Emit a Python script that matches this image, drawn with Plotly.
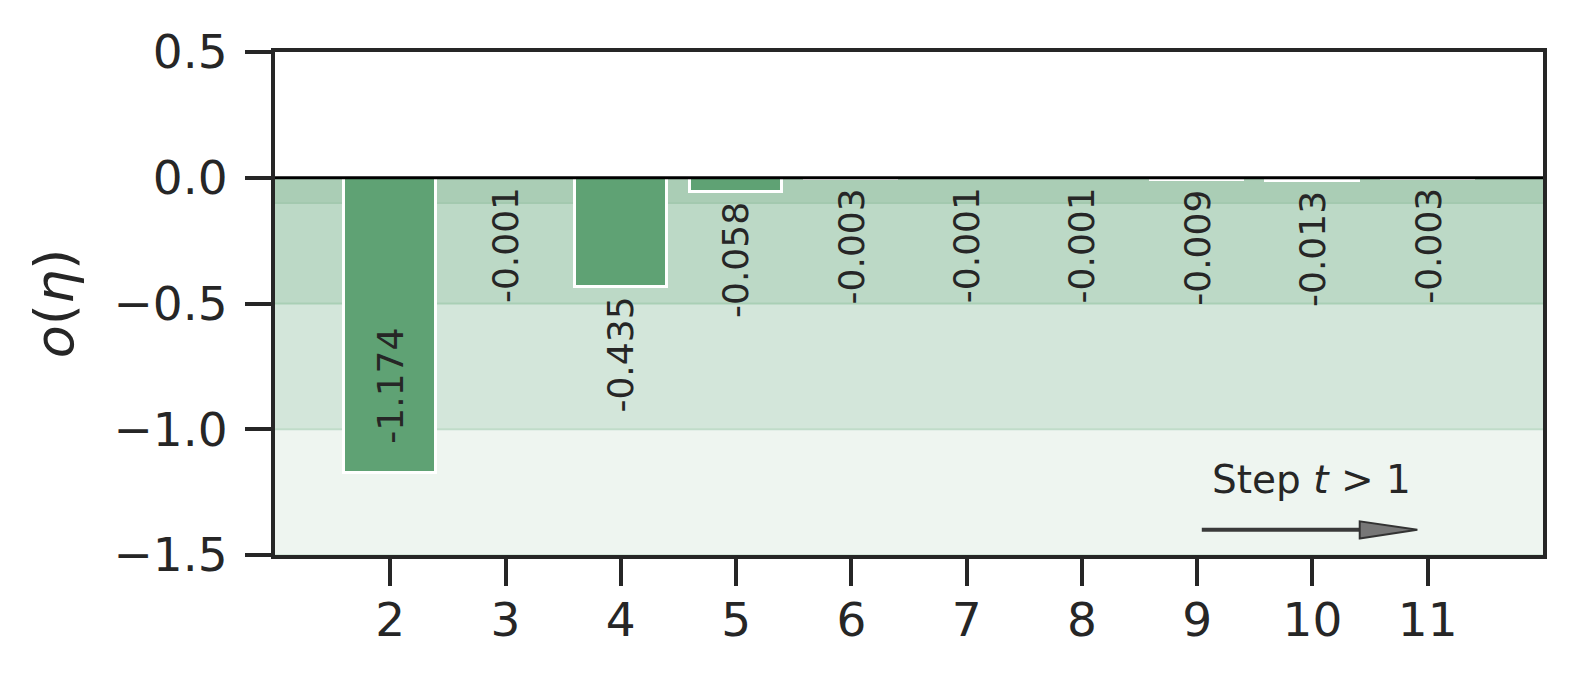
import plotly.graph_objects as go

# step index and o(eta) value per step
steps = [2, 3, 4, 5, 6, 7, 8, 9, 10, 11]
values = [-1.174, -0.001, -0.435, -0.058, -0.003, -0.001, -0.001, -0.009, -0.013, -0.003]
labels = ["-1.174", "-0.001", "-0.435", "-0.058", "-0.003", "-0.001", "-0.001", "-0.009", "-0.013", "-0.003"]

# shaded bands: (lower bound, upper bound, fill, edge)
bands = [(-1.5, -1.0, "#eef5f0", "#d6e8dc"),
         (-1.0, -0.5, "#d3e6da", "#c0dcc9"),
         (-0.5, -0.1, "#bcd9c6", "#a9cfb5"),
         (-0.1, 0.0, "#aacdb5", "#a3c9af")]

# "Step t > 1" arrow, tail and tip in data units
arrow_tail = (9.04, -1.40)
arrow_tip = (10.91, -1.40)

INK = "#262626"
FONT = "DejaVu Sans"

fig = go.Figure()
fig.add_trace(go.Bar(x=steps, y=values, width=0.8,
                     marker=dict(color="#5fa274", line=dict(color="white", width=3)),
                     showlegend=False, hoverinfo="skip"))

for lo, hi, fill, edge in bands:
    fig.add_shape(type="rect", xref="paper", yref="y", x0=0, x1=1, y0=lo, y1=hi,
                  fillcolor=fill, line=dict(width=0), layer="below")
    fig.add_shape(type="line", xref="paper", yref="y", x0=0, x1=1, y0=lo, y1=lo,
                  line=dict(color=edge, width=2), layer="below")

# zero line on top of the bars
fig.add_shape(type="line", xref="paper", yref="y", x0=0, x1=1, y0=0, y1=0,
              line=dict(color="black", width=3), layer="above")

# value labels, rotated
for s, v, lab in zip(steps, values, labels):
    ylab = v / 2 if v < -1 else v - 0.03
    fig.add_annotation(x=s, y=ylab, text=lab, showarrow=False, textangle=-90,
                       xanchor="center", yanchor="top",
                       font=dict(family=FONT, size=36, color=INK))

# step arrow: shaft + slender head
head_len = 0.5
head_half = 0.034
tx, ty = arrow_tip
fig.add_shape(type="line", x0=arrow_tail[0], y0=arrow_tail[1], x1=tx - head_len, y1=ty,
              line=dict(color="#3a3a3a", width=4), layer="above")
fig.add_shape(type="path",
              path=f"M {tx - head_len},{ty - head_half} L {tx},{ty} L {tx - head_len},{ty + head_half} Z",
              fillcolor="#777777", line=dict(color="#333333", width=2), layer="above")
fig.add_annotation(x=9.99, y=-1.20, text="Step <i>t</i> > 1", showarrow=False,
                   font=dict(family=FONT, size=39, color=INK))

# the page body adds an 8px offset, margins compensate for it
fig.update_layout(
    width=1576, height=680,
    margin=dict(l=267, r=41, t=44, b=133, autoexpand=False),
    plot_bgcolor="white", paper_bgcolor="white",
    font=dict(family=FONT, color=INK),
    bargap=0,
    xaxis=dict(range=[1, 12], tickvals=steps, ticktext=[str(s) for s in steps],
               showgrid=False, zeroline=False, showline=True, mirror=True,
               linecolor=INK, linewidth=4, ticks="outside", ticklen=27, tickwidth=4,
               tickcolor=INK, tickfont=dict(size=47, color=INK), ticklabelstandoff=-6),
    yaxis=dict(range=[-1.5, 0.5], tickvals=[0.5, 0.0, -0.5, -1.0, -1.5],
               ticktext=["0.5", "0.0", "\u22120.5", "\u22121.0", "\u22121.5"],
               showgrid=False, zeroline=False, showline=True, mirror=True,
               linecolor=INK, linewidth=4, ticks="outside", ticklen=26, tickwidth=4,
               tickcolor=INK, tickfont=dict(size=47, color=INK), ticklabelstandoff=8,
               title=dict(text="<i>o</i>(<i>η</i>)", font=dict(size=54, color=INK), standoff=24)),
)

fig.write_html("out.html")
